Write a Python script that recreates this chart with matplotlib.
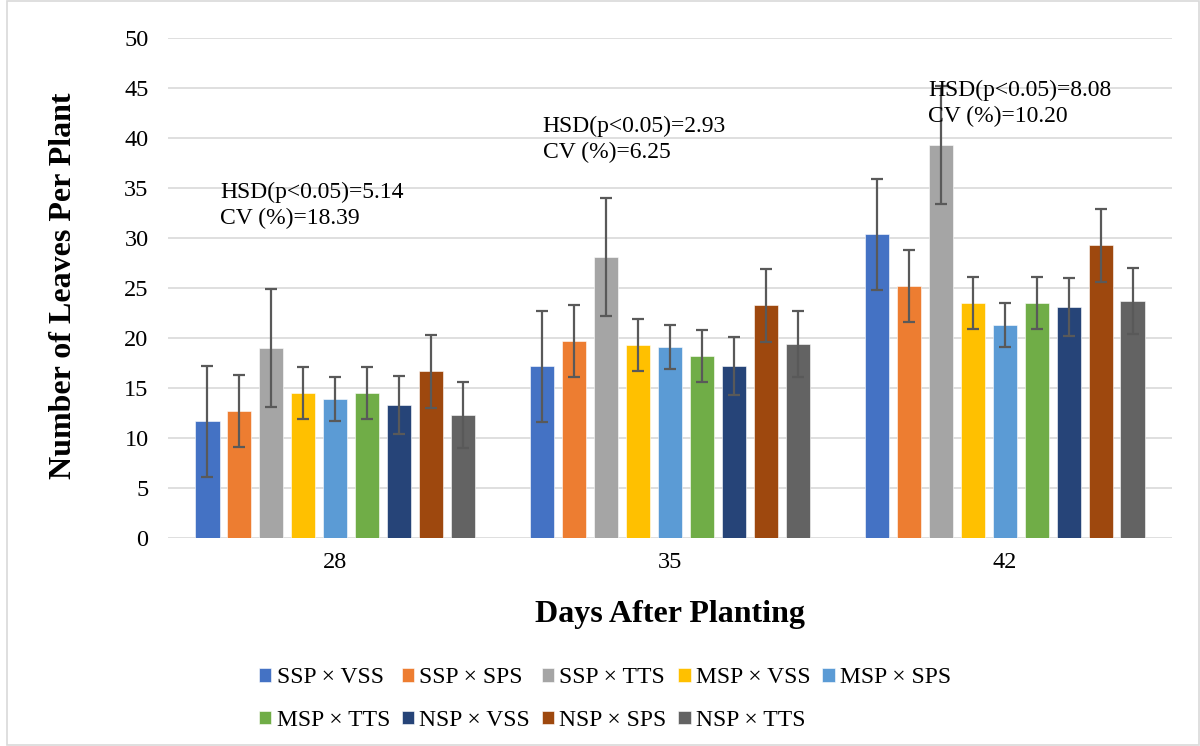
import matplotlib
matplotlib.use("Agg")
import matplotlib.pyplot as plt
import numpy as np
from matplotlib.patches import Rectangle

plt.rcParams['font.family'] = ['Liberation Serif', 'DejaVu Serif']

days = ["28", "35", "42"]
treatments = ["SSP × VSS", "SSP × SPS", "SSP × TTS", "MSP × VSS", "MSP × SPS",
              "MSP × TTS", "NSP × VSS", "NSP × SPS", "NSP × TTS"]
colors = ["#4472C4", "#ED7D31", "#A5A5A5", "#FFC000", "#5B9BD5",
          "#70AD47", "#264478", "#9E480E", "#636363"]

# mean leaves per plant, one list per treatment (values at 28, 35, 42 DAP)
ssp_vss = [11.7, 17.2, 30.4]
ssp_sps = [12.7, 19.7, 25.2]
ssp_tts = [19.0, 28.1, 39.3]
msp_vss = [14.5, 19.3, 23.5]
msp_sps = [13.9, 19.1, 21.3]
msp_tts = [14.5, 18.2, 23.5]
nsp_vss = [13.3, 17.2, 23.1]
nsp_sps = [16.7, 23.3, 29.3]
nsp_tts = [12.3, 19.4, 23.7]
means = [ssp_vss, ssp_sps, ssp_tts, msp_vss, msp_sps, msp_tts, nsp_vss, nsp_sps, nsp_tts]

# error bar half-lengths per treatment
errors = [5.55, 3.6, 5.9, 2.6, 2.2, 2.6, 2.87, 3.65, 3.3]

annotations = ["HSD(p<0.05)=5.14\nCV (%)=18.39",
               "HSD(p<0.05)=2.93\nCV (%)=6.25",
               "HSD(p<0.05)=8.08\nCV (%)=10.20"]

fig = plt.figure(figsize=(12, 7.46), dpi=100)
ax = fig.add_axes([168/1200, 1-538/746, (1172-168)/1200, 500/746])

x = np.arange(len(days))
slot = 0.0956
width = 0.0726
n = len(treatments)
for i, (name, vals) in enumerate(zip(treatments, means)):
    pos = x + (i - (n-1)/2) * slot
    ax.bar(pos, vals, width=width, color=colors[i], label=name, zorder=2,
           edgecolor='white', linewidth=0.4)
    ax.errorbar(pos, vals, yerr=errors[i], fmt='none', ecolor='#595959',
                elinewidth=1.6, capsize=4.5, capthick=1.6, zorder=3)

ax.set_xlim(-0.5, 2.5)
ax.set_ylim(0, 50)
ax.set_yticks(np.arange(0, 51, 5))
ax.set_xticks(x)
ax.set_xticklabels(days)
ax.tick_params(axis='both', length=0, labelsize=17.5)
ax.tick_params(axis='y', pad=14)
ax.tick_params(axis='x', pad=10)
ax.grid(axis='y', color='#d9d9d9', linewidth=1.2, zorder=0)
ax.set_axisbelow(True)
for s in ax.spines.values():
    s.set_visible(False)

fig.text(670/1200, 1-622/746, "Days After Planting", fontsize=23, fontweight='bold',
         ha='center', va='baseline')
fig.text(64/1200, 1-286/746, "Number of Leaves Per Plant", rotation=90,
         fontsize=23, fontweight='bold', ha='center', va='center')

ann_pos = [(-0.345, 35.6), (0.62, 42.2), (1.771, 45.8)]
for (ax_x, ax_y), txt in zip(ann_pos, annotations):
    ax.text(ax_x, ax_y, txt, fontsize=17, ha='left', va='top', linespacing=1.28, zorder=4)

handles, labels = ax.get_legend_handles_labels()
order = [0, 5, 1, 6, 2, 7, 3, 8, 4]
fig.legend([handles[k] for k in order], [labels[k] for k in order],
           loc='center', bbox_to_anchor=(605/1200, 1-699/746), ncol=5, frameon=False,
           fontsize=17, handlelength=0.52, handleheight=0.52, handletextpad=0.22,
           columnspacing=0.5, labelspacing=0.92, borderpad=0.2)

fig.add_artist(Rectangle((0.006, 0.001), 0.993, 0.998, transform=fig.transFigure,
                         fill=False, edgecolor='#d9d9d9', linewidth=1.2))

fig.savefig("out.png", dpi=100, facecolor='white')
